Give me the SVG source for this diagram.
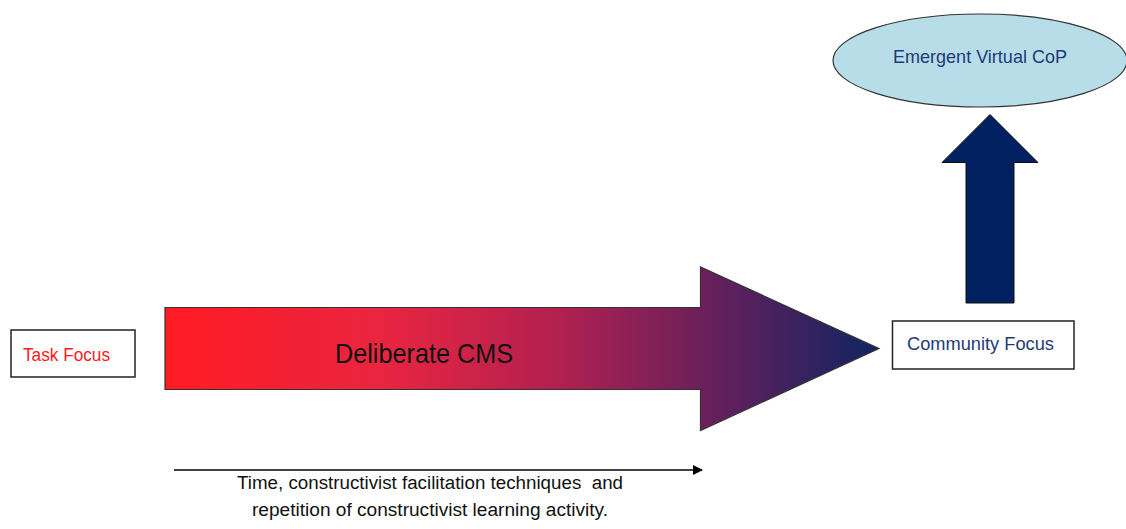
<svg xmlns="http://www.w3.org/2000/svg" width="1126" height="529" viewBox="0 0 1126 529">
<style>
.box{fill:#fff;stroke:#222;stroke-width:1.5}
.lbl{font-family:"Liberation Sans","DejaVu Sans",sans-serif}
</style>
<defs>
<linearGradient id="g" gradientUnits="userSpaceOnUse" x1="164" y1="0" x2="880" y2="0">
<stop offset="0" stop-color="#ff1a22"/>
<stop offset="0.3" stop-color="#ea2540"/>
<stop offset="0.55" stop-color="#b22050"/>
<stop offset="0.78" stop-color="#61205c"/>
<stop offset="1" stop-color="#0f2462"/>
</linearGradient>
<marker id="ah" viewBox="0 0 10 10" refX="9" refY="5" markerWidth="10" markerHeight="10" markerUnits="userSpaceOnUse" orient="auto">
<path d="M0,0 L10,5 L0,10 z" fill="#000"/>
</marker>
</defs>
<rect width="1126" height="529" fill="#fff"/>
<g id="connectors">
<path id="big-arrow" d="M165,307.5 L700.5,307.5 L700.5,267 L879,348.5 L700.5,430.5 L700.5,389.5 L165,389.5 Z" fill="url(#g)" stroke="#333" stroke-width="1.2"/>
<path id="up-arrow" d="M966,303 L1014,303 L1014,162.5 L1038,162.5 L990,114.5 L942,162.5 L966,162.5 Z" fill="#002060" stroke="#111" stroke-width="1"/>
<line id="time-arrow" x1="174" y1="470" x2="702" y2="470" stroke="#000" stroke-width="1.3" marker-end="url(#ah)"/>
</g>
<g id="deliberate">
<text class="lbl" x="424" y="362.5" font-size="28" text-anchor="middle" fill="#111" textLength="178" lengthAdjust="spacingAndGlyphs">Deliberate CMS</text>
</g>
<g id="task-focus">
<rect class="box" x="11" y="330" width="124" height="47"/>
<text class="lbl" x="23" y="360.5" font-size="18" fill="#ff1a1a" textLength="87" lengthAdjust="spacingAndGlyphs">Task Focus</text>
</g>
<g id="community-focus">
<rect class="box" x="892.5" y="321" width="181.5" height="48"/>
<text class="lbl" x="907" y="350" font-size="18" fill="#1f3a78" textLength="147" lengthAdjust="spacingAndGlyphs">Community Focus</text>
</g>
<g id="emergent">
<ellipse cx="980" cy="60.5" rx="147" ry="46.5" fill="#b7dde8" stroke="#333" stroke-width="1.2"/>
<text class="lbl" x="893" y="63" font-size="19" fill="#1f3a78" textLength="174" lengthAdjust="spacingAndGlyphs">Emergent Virtual CoP</text>
</g>
<g id="time-label">
<text class="lbl" x="237" y="488.5" font-size="18" fill="#111" textLength="386" lengthAdjust="spacingAndGlyphs" xml:space="preserve">Time, constructivist facilitation techniques  and</text>
<text class="lbl" x="252" y="515.5" font-size="18" fill="#111" textLength="356" lengthAdjust="spacingAndGlyphs">repetition of constructivist learning activity.</text>
</g>
</svg>
